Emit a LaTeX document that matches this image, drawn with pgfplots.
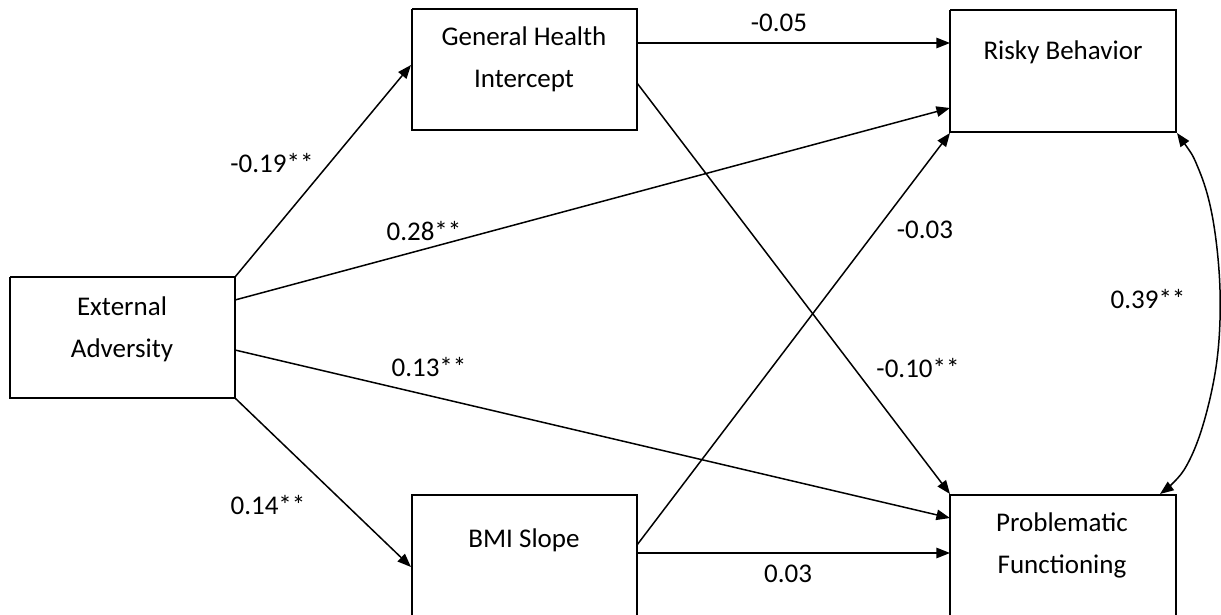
\documentclass[border=0pt]{standalone}
\usepackage{fontspec}
\setmainfont{Carlito}
\usepackage{pgfplots}
\pgfplotsset{compat=1.18}
\usetikzlibrary{arrows.meta}
\begin{document}
\begin{tikzpicture}
\begin{axis}[width=610.5pt,height=307.5pt,scale only axis,
  xmin=0,xmax=1221,ymin=0,ymax=615,y dir=reverse,hide axis,clip=false,
  ln/.style={black,line width=0.75pt,mark=none,line join=miter},
  arr/.style={ln,-{Triangle[length=6.8pt,width=5.2pt]}}]
% boxes
\addplot[ln] coordinates {(10,277) (235,277) (235,398) (10,398) (10,277)};
\addplot[ln] coordinates {(412,9) (637,9) (637,130) (412,130) (412,9)};
\addplot[ln] coordinates {(950,10) (1176,10) (1176,132) (950,132) (950,10)};
\addplot[ln] coordinates {(412,615) (412,495) (637,495) (637,615)};
\addplot[ln] coordinates {(950,615) (950,495) (1176,495) (1176,615)};
% paths
\addplot[arr] coordinates {(235,277) (411,65)};
\addplot[arr] coordinates {(235,300) (950,108)};
\addplot[arr] coordinates {(235,350) (950,518)};
\addplot[arr] coordinates {(235,398) (411,567)};
\addplot[arr] coordinates {(637,43) (950,43)};
\addplot[arr] coordinates {(637,83) (950,494)};
\addplot[arr] coordinates {(637,545) (950,133)};
\addplot[arr] coordinates {(637,553) (950,553)};
\addplot[ln,smooth,tension=0.6,{Triangle[length=6.8pt,width=5.2pt]}-{Triangle[length=6.8pt,width=5.2pt]}] coordinates {(1177,133) (1199,170) (1213,220) (1220,290) (1217,360) (1203,425) (1184,470) (1160,494)};
% texts
\begin{scope}[every node/.style={font=\fontsize{13.5}{21}\selectfont,align=center,inner sep=0pt}]
\node at (axis cs:122,329) {External\\Adversity};
\node at (axis cs:524,59) {General Health\\Intercept};
\node at (axis cs:1063,52) {Risky Behavior};
\node at (axis cs:524,540) {BMI Slope};
\node at (axis cs:1062,545) {Problematic\\Functioning};
\node at (axis cs:272,163) {-0.19**};
\node at (axis cs:424,231) {0.28**};
\node at (axis cs:429,367) {0.13**};
\node at (axis cs:268,505) {0.14**};
\node at (axis cs:779,23) {-0.05};
\node at (axis cs:925,230) {-0.03};
\node at (axis cs:918,368) {-0.10**};
\node at (axis cs:1148,299) {0.39**};
\node at (axis cs:788,574) {0.03};
\end{scope}
\end{axis}
\pgfresetboundingbox
\useasboundingbox (current axis.south west) rectangle (current axis.north east);
\end{tikzpicture}
\end{document}
